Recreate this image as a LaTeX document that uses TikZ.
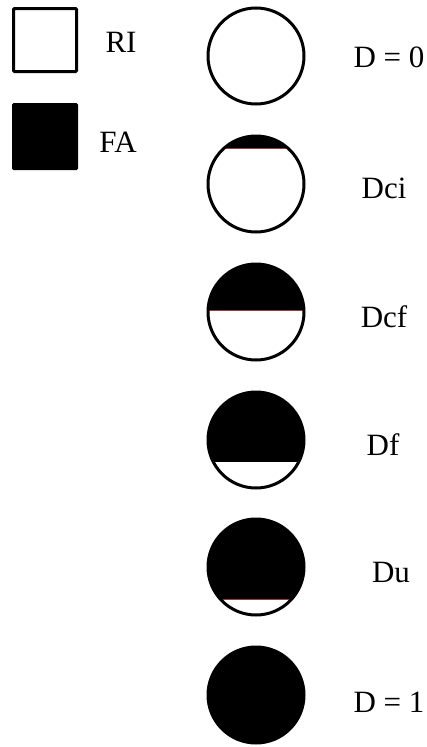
\documentclass[tikz,border=0pt]{standalone}
\usepackage{fontspec}
\setmainfont{Liberation Serif}
\begin{document}
\begin{tikzpicture}[x=1pt,y=-1pt,
  lbl/.style={anchor=base,inner sep=0pt,font=\fontsize{31}{31}\selectfont},
  ring/.style={draw=black,line width=3pt},
  seam/.style={draw={rgb,255:red,150;green,60;blue,60},line width=0.6pt}]
\useasboundingbox[fill=white] (0,0) rectangle (427,747);
% legend
\draw[ring,rounded corners=1pt] (13.5,8.5) rectangle (76.5,71.5);
\fill[rounded corners=1.5pt] (12,103) rectangle (78,170);
\node[lbl] (ri) at (121,52) {RI};
\node[lbl] (fa) at (118,152) {FA};
% D = 0
\fill[white] (256,56) circle[radius=48pt];
\draw[ring] (256,56) circle[radius=48pt];
% Dci
\begin{scope}
\clip (256,184) circle[radius=48pt];
\fill (200,130) rectangle (312,148);
\draw[seam] (200,148) -- (312,148);
\end{scope}
\draw[ring] (256,184) circle[radius=48pt];
% Dcf
\begin{scope}
\clip (256,312) circle[radius=48pt];
\fill (200,258) rectangle (312,310);
\draw[seam] (200,310) -- (312,310);
\end{scope}
\draw[ring] (256,312) circle[radius=48pt];
% Df
\begin{scope}
\clip (256,440) circle[radius=48pt];
\fill (200,386) rectangle (312,462);
\end{scope}
\draw[ring] (256,440) circle[radius=48pt];
% Du
\begin{scope}
\clip (256,567) circle[radius=48pt];
\fill (200,513) rectangle (312,599);
\draw[seam] (200,599) -- (312,599);
\end{scope}
\draw[ring] (256,567) circle[radius=48pt];
% D = 1
\fill (256,695) circle[radius=49.5pt];
% labels
\node[lbl] (d0) at (389,67) {D = 0};
\node[lbl] (dci) at (384,198) {Dci};
\node[lbl] (dcf) at (384,327) {Dcf};
\node[lbl] (df) at (383,455) {Df};
\node[lbl] (du) at (391,582) {Du};
\node[lbl] (d1) at (389,712) {D = 1};
\end{tikzpicture}
\end{document}
